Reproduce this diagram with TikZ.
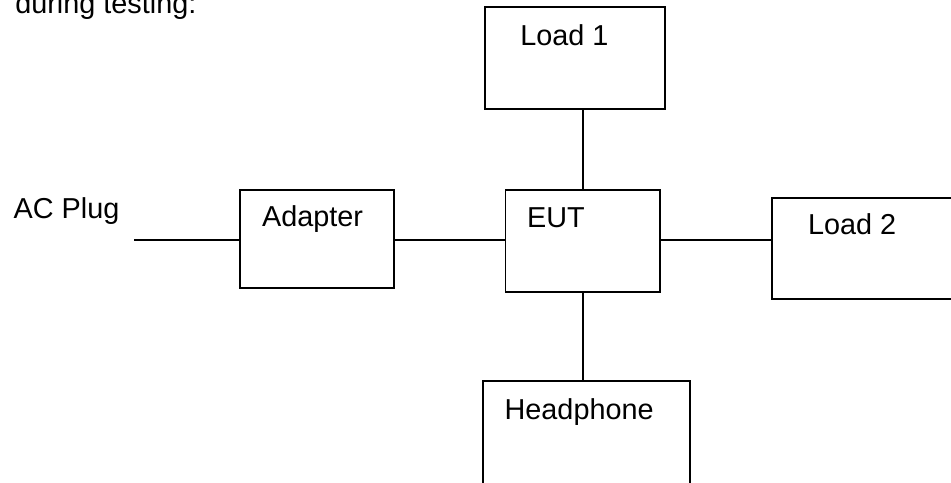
\documentclass[tikz,border=0pt]{standalone}
\usepackage{fontspec}
\setmainfont{Liberation Sans}
\begin{document}
\begin{tikzpicture}[x=0.02cm,y=-0.02cm,
    every node/.style={font=\fontsize{16.4}{19}\selectfont},
    unit/.style={draw,line width=1.1pt,inner sep=0pt},
    tag/.style={anchor=base west,inner sep=0pt}]
      \useasboundingbox (0,0) rectangle (951,483);
      \node[tag] (title) at (15,14) {during testing:};
      \node[unit,minimum width=3.08cm,minimum height=1.97cm] (adapter) at (317,238.8) {};
      \node[unit,minimum width=3.6cm,minimum height=2.04cm] (load1) at (574.7,58) {};
      \node[unit,minimum width=3.09cm,minimum height=2.04cm] (eut) at (582.7,240.6) {};
      \node[unit,minimum width=3.76cm,minimum height=2.03cm] (load2) at (866,248.5) {};
      \node[unit,minimum width=4.15cm,minimum height=2.06cm] (phone) at (586.3,432.5) {};
      \node[tag] (acplug) at (13.3,218.3) {AC Plug};
      \node[tag] (adaptertext) at (261.7,226.7) {Adapter};
      \node[tag] (load1text) at (520,45.7) {Load 1};
      \node[tag] (euttext) at (526.7,227.7) {EUT};
      \node[tag] (load2text) at (807.7,235) {Load 2};
      \node[tag] (phonetext) at (504.3,419.3) {Headphone};
      \coordinate (ac) at (134,240);
      \begin{scope}[line width=1.1pt]
        \draw (ac) -- (ac -| adapter.west);
        \draw (ac -| adapter.east) -- (ac -| eut.west);
        \draw (ac -| eut.east) -- (ac -| load2.west);
        \draw (eut.north |- load1.south) -- (eut.north);
        \draw (eut.south) -- (eut.south |- phone.north);
      \end{scope}
    \end{tikzpicture}
\end{document}
